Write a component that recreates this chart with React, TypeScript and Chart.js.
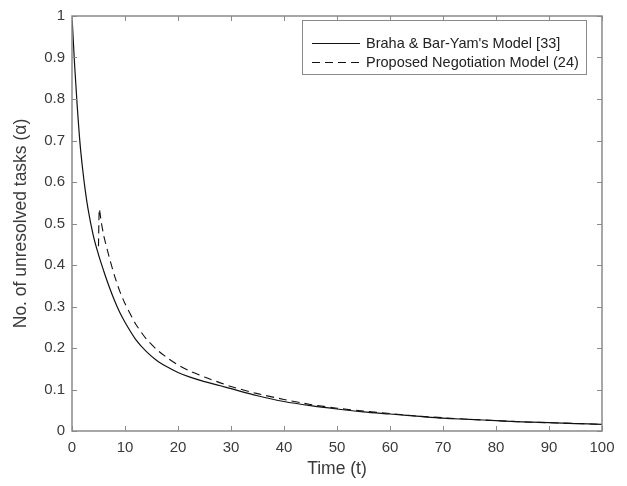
import React, { useEffect, useRef } from 'react';
import { Chart, registerables } from 'chart.js';

Chart.register(...registerables);

// ---- data ----
const solidTime = [0, 0.5, 1, 1.5, 2, 2.5, 3, 4, 5, 6, 7, 8, 9, 10, 12, 14, 16, 18, 20, 22, 25, 28, 30, 35, 40, 45, 50, 55, 60, 65, 70, 75, 80, 85, 90, 95, 100];
const solidValues = [1.0, 0.88, 0.78, 0.695, 0.632, 0.58, 0.537, 0.472, 0.425, 0.385, 0.348, 0.315, 0.286, 0.262, 0.221, 0.192, 0.17, 0.154, 0.141, 0.131, 0.119, 0.109, 0.102, 0.085, 0.071, 0.061, 0.053, 0.046, 0.041, 0.036, 0.031, 0.028, 0.025, 0.022, 0.02, 0.018, 0.016];

const dashedTime = [5.0, 5.15, 5.5, 6, 7, 8, 9, 10, 12, 14, 16, 18, 20, 22, 25, 28, 30, 35, 40, 45, 50, 55, 60, 65, 70, 75, 80, 85, 90, 95, 100];
const dashedValues = [0.445, 0.535, 0.505, 0.47, 0.42, 0.375, 0.337, 0.307, 0.258, 0.222, 0.196, 0.176, 0.159, 0.146, 0.13, 0.116, 0.107, 0.09, 0.076, 0.064, 0.055, 0.048, 0.042, 0.036, 0.032, 0.028, 0.025, 0.022, 0.02, 0.018, 0.016];

const seriesLabels = ["Braha & Bar-Yam's Model [33]", 'Proposed Negotiation Model (24)'];
const xTitle = 'Time (t)';
const yTitle = 'No. of unresolved tasks (α)';

const FONT = '"Liberation Sans", Arial, Helvetica, sans-serif';
const AXIS_COLOR = '#8a8a8a';
const TEXT_COLOR = '#3a3a3a';

const boxPlugin = {
  id: 'matlabBox',
  afterDraw(chart: any) {
    const { ctx, chartArea } = chart;
    const { left, right, top, bottom } = chartArea;
    const xs = chart.scales.x;
    const ys = chart.scales.y;
    const tl = 5;
    ctx.save();
    ctx.strokeStyle = AXIS_COLOR;
    ctx.lineWidth = 1.5;
    ctx.beginPath();
    ctx.rect(left, top, right - left, bottom - top);
    ctx.stroke();
    ctx.lineWidth = 1;
    ctx.beginPath();
    xs.ticks.forEach((t: any) => {
      const px = Math.round(xs.getPixelForValue(t.value)) + 0.5;
      ctx.moveTo(px, bottom);
      ctx.lineTo(px, bottom - tl);
      ctx.moveTo(px, top);
      ctx.lineTo(px, top + tl);
    });
    ys.ticks.forEach((t: any) => {
      const py = Math.round(ys.getPixelForValue(t.value)) + 0.5;
      ctx.moveTo(left, py);
      ctx.lineTo(left + tl, py);
      ctx.moveTo(right, py);
      ctx.lineTo(right - tl, py);
    });
    ctx.stroke();
    ctx.restore();
  },
};

const legendPlugin = {
  id: 'boxLegend',
  afterDraw(chart: any) {
    const { ctx } = chart;
    const x0 = 302.5, y0 = 20.5, w = 284, h = 54;
    ctx.save();
    ctx.fillStyle = '#ffffff';
    ctx.fillRect(x0, y0, w, h);
    ctx.strokeStyle = AXIS_COLOR;
    ctx.lineWidth = 1;
    ctx.strokeRect(x0, y0, w, h);
    ctx.font = `14.5px ${FONT}`;
    ctx.textBaseline = 'middle';
    ctx.textAlign = 'left';
    chart.data.datasets.forEach((ds: any, i: number) => {
      const cy = 43.5 + i * 19;
      ctx.strokeStyle = '#111';
      ctx.lineWidth = 1;
      ctx.setLineDash(ds.borderDash || []);
      ctx.beginPath();
      ctx.moveTo(312, cy);
      ctx.lineTo(360, cy);
      ctx.stroke();
      ctx.setLineDash([]);
      ctx.fillStyle = '#222';
      ctx.fillText(ds.label, 366, cy);
    });
    ctx.restore();
  },
};

export default function App() {
  const ref = useRef<HTMLCanvasElement>(null);
  useEffect(() => {
    document.body.style.margin = '0';
    const canvas = ref.current;
    if (!canvas) return;
    const chart = new Chart(canvas, {
      type: 'line',
      data: {
        datasets: [
          {
            label: seriesLabels[0],
            data: solidTime.map((t, i) => ({ x: t, y: solidValues[i] })),
            borderColor: '#111',
            borderWidth: 1.2,
            pointRadius: 0,
            cubicInterpolationMode: 'monotone',
            fill: false,
          },
          {
            label: seriesLabels[1],
            data: dashedTime.map((t, i) => ({ x: t, y: dashedValues[i] })),
            borderColor: '#111',
            borderWidth: 1.1,
            borderDash: [8, 5],
            pointRadius: 0,
            tension: 0.2,
            fill: false,
          },
        ],
      },
      options: {
        responsive: false,
        animation: false,
        layout: { padding: { left: 0, right: 25, top: 12, bottom: 0 } },
        plugins: { legend: { display: false }, tooltip: { enabled: false } },
        scales: {
          x: {
            type: 'linear',
            min: 0,
            max: 100,
            grid: { display: false, drawTicks: false },
            border: { display: false },
            ticks: { stepSize: 10, color: TEXT_COLOR, font: { family: FONT, size: 15 }, padding: 8, maxRotation: 0 },
            title: { display: true, text: xTitle, color: TEXT_COLOR, font: { family: FONT, size: 17.5 }, padding: { top: 0, bottom: 6 } },
            afterFit: (s: any) => { s.height = 55; },
          },
          y: {
            type: 'linear',
            min: 0,
            max: 1,
            grid: { display: false, drawTicks: false },
            border: { display: false },
            ticks: { stepSize: 0.1, color: TEXT_COLOR, font: { family: FONT, size: 15 }, padding: 7, callback: (v: any) => String(Math.round(Number(v) * 10) / 10) },
            title: { display: true, text: yTitle, color: TEXT_COLOR, font: { family: FONT, size: 17.5 }, padding: { top: 11, bottom: 0 } },
            afterFit: (s: any) => { s.width = 72; },
          },
        },
      },
      plugins: [boxPlugin, legendPlugin],
    });
    return () => chart.destroy();
  }, []);
  return (
    <div style={{ width: 627, height: 486, background: '#fff' }}>
      <canvas ref={ref} width={627} height={486} style={{ display: 'block' }} />
    </div>
  );
}
